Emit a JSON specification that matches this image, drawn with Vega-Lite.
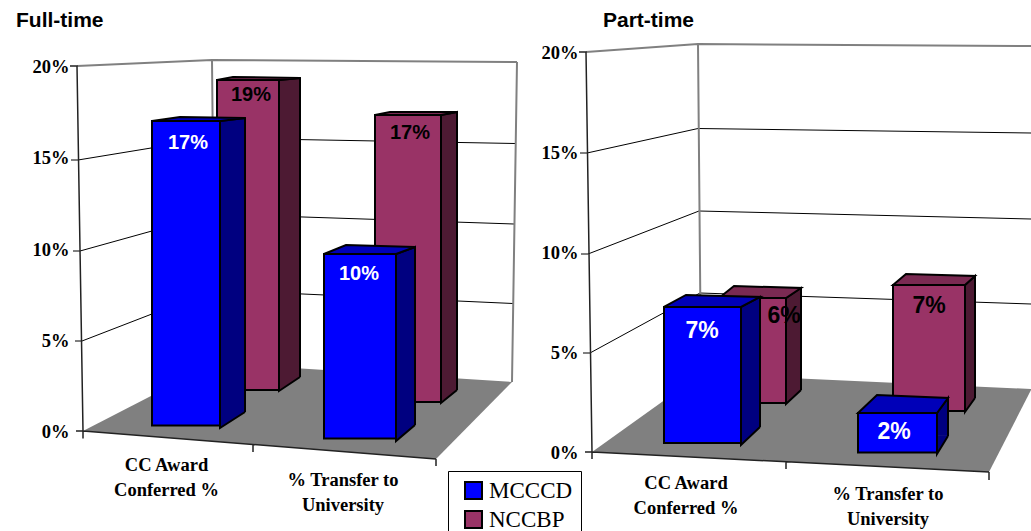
{"$schema":"https://vega.github.io/schema/vega-lite/v6.json","background":"white","padding":{"left":16,"top":10,"right":0,"bottom":0},"bounds":"flush","spacing":75,"config":{"view":{"stroke":null}},
"datasets":{"ticks":[{"tick":0},{"tick":0.05},{"tick":0.1},{"tick":0.15},{"tick":0.2}],
"full":[{"category":"CC Award Conferred %","series":"MCCCD","value":0.17},{"category":"CC Award Conferred %","series":"NCCBP","value":0.19},{"category":"% Transfer to University","series":"MCCCD","value":0.10},{"category":"% Transfer to University","series":"NCCBP","value":0.17}],
"part":[{"category":"CC Award Conferred %","series":"MCCCD","value":0.07},{"category":"CC Award Conferred %","series":"NCCBP","value":0.06},{"category":"% Transfer to University","series":"MCCCD","value":0.02},{"category":"% Transfer to University","series":"NCCBP","value":0.07}]},
"hconcat":[
{"width":440,"height":400,"title":{"text":"Full-time","anchor":"start","frame":"group","font":"Liberation Sans","fontWeight":"bold","fontSize":21,"color":"#000","dx":-59,"offset":21},"data":{"name":"full"},"resolve":{"scale":{"y":"independent"},"axis":{"y":"independent"}},
"layer":[
{"data":{"name":"ticks"},"encoding":{"y":{"field":"tick","type":"quantitative","scale":{"domain":[0,0.2],"range":[379.5,14.5]},"axis":{"values":[0,0.05,0.1,0.15,0.2],"format":".0%","grid":false,"ticks":false,"domain":false,"title":null,"labelFont":"Liberation Serif","labelFontWeight":"bold","labelFontSize":18.5,"labelColor":"#000","labelPadding":6}}},
"layer":[
{"transform":[{"filter":"datum.tick==0"}],"mark":{"type":"point","filled":true,"opacity":1,"size":4,"fill":"#808080","stroke":null,"shape":"M-212,-0.5L-80,-68.5L217,-49.5L141,27.5Z"}},
{"transform":[{"filter":"datum.tick==0.05"}],"mark":{"type":"point","filled":false,"opacity":1,"size":4,"stroke":"#000","strokeWidth":1,"shape":"M-220,0.75L-213,0.75L-81,-50.25L218,-36.75"}},
{"transform":[{"filter":"datum.tick==0.1"}],"mark":{"type":"point","filled":false,"opacity":1,"size":4,"stroke":"#000","strokeWidth":1,"shape":"M-222,2L-215,2L-82,-35L219,-25"}},
{"transform":[{"filter":"datum.tick==0.15"}],"mark":{"type":"point","filled":false,"opacity":1,"size":4,"stroke":"#000","strokeWidth":1,"shape":"M-224,2.25L-217,2.25L-83,-19.75L220,-14.25"}},
{"transform":[{"filter":"datum.tick==0.2"}],"mark":{"type":"point","filled":false,"opacity":1,"size":4,"stroke":"#808080","strokeWidth":2,"shape":"M-218,-0.5L-83,-6.5L222,-4.5M-83,-6.5L-80,296.5M222,-4.5L217,315.5"}},
{"transform":[{"filter":"datum.tick==0"}],"mark":{"type":"point","filled":false,"opacity":1,"size":4,"stroke":"#222","strokeWidth":1.5,"shape":"M-225,-365.5L-218,-365.5L-212,-0.5M-219,-0.5L-212,-0.5L141,27.5M-212,-0.5L-212,7M-42,13.5L-42,20.5M141,27.5L141,34.5"}}
]},
{"transform":[{"filter":"datum.series=='NCCBP'&&datum.category[0]=='C'"}],"encoding":{"x":{"field":"category","type":"nominal","scale":{"domain":["CC Award Conferred %","% Transfer to University"],"range":[0,360]},"axis":null},"y":{"field":"value","type":"quantitative","stack":null,"scale":{"domain":[0,0.2],"range":[338,11.7]},"axis":null}},
"layer":[
{"mark":{"type":"bar","width":21,"xOffset":124.5,"fill":"#4d1a33"},"encoding":{"y2":{"datum":0.008}}},
{"mark":{"type":"rule","xOffset":135,"stroke":"#000","strokeWidth":2},"encoding":{"y2":{"datum":0.008}}},
{"mark":{"type":"point","filled":true,"opacity":1,"size":4,"fill":"#4d1a33","stroke":"#000","strokeWidth":2,"xOffset":83,"shape":"M31,0L52,-2L52,0"}},
{"mark":{"type":"point","filled":true,"opacity":1,"size":4,"fill":"#4d1a33","stroke":"#000","strokeWidth":2,"xOffset":83,"shape":"M52,-13L31,1L31,-13"},"encoding":{"y":{"datum":0,"type":"quantitative","scale":{"domain":[0,0.2],"range":[338,11.7]},"axis":null}}},
{"mark":{"type":"point","filled":true,"opacity":1,"size":4,"fill":"#7a2a52","stroke":"#000","strokeWidth":2,"xOffset":83,"shape":"M-31,0L-15,-3L52,-2L31,0Z"}},
{"mark":{"type":"bar","width":62,"xOffset":83,"stroke":"#000","strokeWidth":2},"encoding":{"color":{"field":"series","type":"nominal","scale":{"domain":["MCCCD","NCCBP"],"range":["#0000ff","#993366"]},"legend":{"orient":"none","legendX":373,"legendY":419,"title":null,"symbolType":"square","symbolSize":289,"symbolStrokeColor":"#000","symbolStrokeWidth":2,"symbolOpacity":1,"symbolOffset":6,"labelFont":"Liberation Serif","labelFontSize":23,"labelColor":"#000","strokeColor":"#000","padding":8,"rowPadding":4}}}},
{"mark":{"type":"text","dx":86,"dy":15,"font":"Liberation Sans","fontWeight":"bold","fontSize":20,"color":"#000"},"encoding":{"text":{"field":"value","type":"quantitative","format":".0%"}}}
]},
{"transform":[{"filter":"datum.series=='NCCBP'&&datum.category[0]=='%'"}],"encoding":{"x":{"field":"category","type":"nominal","scale":{"domain":["CC Award Conferred %","% Transfer to University"],"range":[0,360]},"axis":null},"y":{"field":"value","type":"quantitative","stack":null,"scale":{"domain":[0,0.2],"range":[350,12.4]},"axis":null}},
"layer":[
{"mark":{"type":"bar","width":16,"xOffset":104,"fill":"#4d1a33"},"encoding":{"y2":{"datum":0.0071}}},
{"mark":{"type":"rule","xOffset":112,"stroke":"#000","strokeWidth":2},"encoding":{"y2":{"datum":0.0071}}},
{"mark":{"type":"point","filled":true,"opacity":1,"size":4,"fill":"#4d1a33","stroke":"#000","strokeWidth":2,"xOffset":63,"shape":"M33,0L49,-3L49,0"}},
{"mark":{"type":"point","filled":true,"opacity":1,"size":4,"fill":"#4d1a33","stroke":"#000","strokeWidth":2,"xOffset":63,"shape":"M49,-12L33,1L33,-12"},"encoding":{"y":{"datum":0,"type":"quantitative","scale":{"domain":[0,0.2],"range":[350,12.4]},"axis":null}}},
{"mark":{"type":"point","filled":true,"opacity":1,"size":4,"fill":"#7a2a52","stroke":"#000","strokeWidth":2,"xOffset":63,"shape":"M-33,0L-18,-3L49,-3L33,0Z"}},
{"mark":{"type":"bar","width":66,"xOffset":63,"stroke":"#000","strokeWidth":2},"encoding":{"color":{"field":"series","type":"nominal","scale":{"domain":["MCCCD","NCCBP"],"range":["#0000ff","#993366"]},"legend":null}}},
{"mark":{"type":"text","dx":65,"dy":18,"font":"Liberation Sans","fontWeight":"bold","fontSize":20,"color":"#000"},"encoding":{"text":{"field":"value","type":"quantitative","format":".0%"}}}
]},
{"transform":[{"filter":"datum.series=='MCCCD'&&datum.category[0]=='C'"}],"encoding":{"x":{"field":"category","type":"nominal","scale":{"domain":["CC Award Conferred %","% Transfer to University"],"range":[0,360]},"axis":null},"y":{"field":"value","type":"quantitative","stack":null,"scale":{"domain":[0,0.2],"range":[373.5,15.3]},"axis":null}},
"layer":[
{"mark":{"type":"bar","width":25,"xOffset":67.5,"fill":"#000080"},"encoding":{"y2":{"datum":0.0075}}},
{"mark":{"type":"rule","xOffset":80,"stroke":"#000","strokeWidth":2},"encoding":{"y2":{"datum":0.0075}}},
{"mark":{"type":"point","filled":true,"opacity":1,"size":4,"fill":"#000080","stroke":"#000","strokeWidth":2,"xOffset":21,"shape":"M34,0L59,-3L59,0"}},
{"mark":{"type":"point","filled":true,"opacity":1,"size":4,"fill":"#000080","stroke":"#000","strokeWidth":2,"xOffset":21,"shape":"M59,-13.5L34,2.5L34,-13.5"},"encoding":{"y":{"datum":0,"type":"quantitative","scale":{"domain":[0,0.2],"range":[373.5,15.3]},"axis":null}}},
{"mark":{"type":"point","filled":true,"opacity":1,"size":4,"fill":"#0000b8","stroke":"#000","strokeWidth":2,"xOffset":21,"shape":"M-34,0L-6,-4L59,-3L34,0Z"}},
{"mark":{"type":"bar","width":68,"xOffset":21,"stroke":"#000","strokeWidth":2},"encoding":{"color":{"field":"series","type":"nominal","scale":{"domain":["MCCCD","NCCBP"],"range":["#0000ff","#993366"]},"legend":null}}},
{"mark":{"type":"text","dx":23,"dy":22,"font":"Liberation Sans","fontWeight":"bold","fontSize":20,"color":"#fff"},"encoding":{"text":{"field":"value","type":"quantitative","format":".0%"}}},
{"mark":{"type":"text","dx":1.5,"dy":30.5,"baseline":"top","lineHeight":25,"font":"Liberation Serif","fontWeight":"bold","fontSize":18.5,"color":"#000"},"encoding":{"y":{"datum":0,"type":"quantitative","scale":{"domain":[0,0.2],"range":[373.5,15.3]},"axis":null},"text":{"value":["CC Award","Conferred %"]}}}
]},
{"transform":[{"filter":"datum.series=='MCCCD'&&datum.category[0]=='%'"}],"encoding":{"x":{"field":"category","type":"nominal","scale":{"domain":["CC Award Conferred %","% Transfer to University"],"range":[0,360]},"axis":null},"y":{"field":"value","type":"quantitative","stack":null,"scale":{"domain":[0,0.2],"range":[386.5,17.5]},"axis":null}},
"layer":[
{"mark":{"type":"bar","width":19,"xOffset":60.5,"fill":"#000080"},"encoding":{"y2":{"datum":0.0073}}},
{"mark":{"type":"rule","xOffset":70,"stroke":"#000","strokeWidth":2},"encoding":{"y2":{"datum":0.0073}}},
{"mark":{"type":"point","filled":true,"opacity":1,"size":4,"fill":"#000080","stroke":"#000","strokeWidth":2,"xOffset":15,"shape":"M36,0L55,-7L55,0"}},
{"mark":{"type":"point","filled":true,"opacity":1,"size":4,"fill":"#000080","stroke":"#000","strokeWidth":2,"xOffset":15,"shape":"M55,-13.5L36,2.5L36,-13.5"},"encoding":{"y":{"datum":0,"type":"quantitative","scale":{"domain":[0,0.2],"range":[386.5,17.5]},"axis":null}}},
{"mark":{"type":"point","filled":true,"opacity":1,"size":4,"fill":"#0000b8","stroke":"#000","strokeWidth":2,"xOffset":15,"shape":"M-36,0L-14,-9L55,-7L36,0Z"}},
{"mark":{"type":"bar","width":72,"xOffset":15,"stroke":"#000","strokeWidth":2},"encoding":{"color":{"field":"series","type":"nominal","scale":{"domain":["MCCCD","NCCBP"],"range":["#0000ff","#993366"]},"legend":null}}},
{"mark":{"type":"text","dx":14,"dy":20,"font":"Liberation Sans","fontWeight":"bold","fontSize":20,"color":"#fff"},"encoding":{"text":{"field":"value","type":"quantitative","format":".0%"}}},
{"mark":{"type":"text","dx":-2,"dy":32.5,"baseline":"top","lineHeight":25,"font":"Liberation Serif","fontWeight":"bold","fontSize":18.5,"color":"#000"},"encoding":{"y":{"datum":0,"type":"quantitative","scale":{"domain":[0,0.2],"range":[386.5,17.5]},"axis":null},"text":{"value":["% Transfer to","University"]}}}
]}
]},
{"width":441,"height":400,"title":{"text":"Part-time","anchor":"start","frame":"group","font":"Liberation Sans","fontWeight":"bold","fontSize":21,"color":"#000","dx":13,"offset":9},"data":{"name":"part"},"resolve":{"scale":{"y":"independent"},"axis":{"y":"independent"}},
"layer":[
{"data":{"name":"ticks"},"encoding":{"y":{"field":"tick","type":"quantitative","scale":{"domain":[0,0.2],"range":[400,0]},"axis":{"values":[0,0.05,0.1,0.15,0.2],"format":".0%","grid":false,"ticks":false,"domain":false,"title":null,"labelFont":"Liberation Serif","labelFontWeight":"bold","labelFontSize":18.5,"labelColor":"#000","labelPadding":12}}},
"layer":[
{"transform":[{"filter":"datum.tick==0"}],"mark":{"type":"point","filled":true,"opacity":1,"size":4,"fill":"#808080","stroke":null,"shape":"M-218.5,0L-109.5,-78L220.5,-63L220.5,-62L178.5,20Z"}},
{"transform":[{"filter":"datum.tick==0.05"}],"mark":{"type":"point","filled":false,"opacity":1,"size":4,"stroke":"#000","strokeWidth":1,"shape":"M-227.5,1L-220.5,1L-110.5,-59L220.5,-48"}},
{"transform":[{"filter":"datum.tick==0.1"}],"mark":{"type":"point","filled":false,"opacity":1,"size":4,"stroke":"#000","strokeWidth":1,"shape":"M-229.5,2L-222.5,2L-111.5,-41L220.5,-33"}},
{"transform":[{"filter":"datum.tick==0.15"}],"mark":{"type":"point","filled":false,"opacity":1,"size":4,"stroke":"#000","strokeWidth":1,"shape":"M-230.5,1L-223.5,1L-112.5,-23.5L220.5,-19"}},
{"transform":[{"filter":"datum.tick==0.2"}],"mark":{"type":"point","filled":false,"opacity":1,"size":4,"stroke":"#808080","strokeWidth":2,"shape":"M-224.5,0L-112.5,-8L220.5,-6M-112.5,-8L-109.5,323"}},
{"transform":[{"filter":"datum.tick==0"}],"mark":{"type":"point","filled":false,"opacity":1,"size":4,"stroke":"#222","strokeWidth":1.5,"shape":"M-231.5,-400L-224.5,-400L-218.5,0M-225.5,0L-218.5,0L178.5,20M-218.5,0L-218.5,7M-24.5,10L-24.5,17M178.5,20L178.5,28"}}
]},
{"transform":[{"filter":"datum.series=='NCCBP'&&datum.category[0]=='C'"}],"encoding":{"x":{"field":"category","type":"nominal","scale":{"domain":["CC Award Conferred %","% Transfer to University"],"range":[-3,397]},"axis":null},"y":{"field":"value","type":"quantitative","stack":null,"scale":{"domain":[0,0.2],"range":[351,1]},"axis":null}},
"layer":[
{"mark":{"type":"bar","width":15,"xOffset":106.5,"fill":"#4d1a33"},"encoding":{"y2":{"datum":0.0074}}},
{"mark":{"type":"rule","xOffset":114,"stroke":"#000","strokeWidth":2},"encoding":{"y2":{"datum":0.0074}}},
{"mark":{"type":"point","filled":true,"opacity":1,"size":4,"fill":"#4d1a33","stroke":"#000","strokeWidth":2,"xOffset":65.5,"shape":"M33.5,0L48.5,-10L48.5,0"}},
{"mark":{"type":"point","filled":true,"opacity":1,"size":4,"fill":"#4d1a33","stroke":"#000","strokeWidth":2,"xOffset":65.5,"shape":"M48.5,-13L33.5,1L33.5,-13"},"encoding":{"y":{"datum":0,"type":"quantitative","scale":{"domain":[0,0.2],"range":[351,1]},"axis":null}}},
{"mark":{"type":"point","filled":true,"opacity":1,"size":4,"fill":"#7a2a52","stroke":"#000","strokeWidth":2,"xOffset":65.5,"shape":"M-33.5,0L-18.5,-12L48.5,-10L33.5,0Z"}},
{"mark":{"type":"bar","width":67,"xOffset":65.5,"stroke":"#000","strokeWidth":2},"encoding":{"color":{"field":"series","type":"nominal","scale":{"domain":["MCCCD","NCCBP"],"range":["#0000ff","#993366"]},"legend":null}}},
{"mark":{"type":"text","dx":97,"dy":18,"font":"Liberation Sans","fontWeight":"bold","fontSize":23,"color":"#000"},"encoding":{"text":{"field":"value","type":"quantitative","format":".0%"}}}
]},
{"transform":[{"filter":"datum.series=='NCCBP'&&datum.category[0]=='%'"}],"encoding":{"x":{"field":"category","type":"nominal","scale":{"domain":["CC Award Conferred %","% Transfer to University"],"range":[-3,397]},"axis":null},"y":{"field":"value","type":"quantitative","stack":null,"scale":{"domain":[0,0.2],"range":[359,-1]},"axis":null}},
"layer":[
{"mark":{"type":"bar","width":10,"xOffset":83,"fill":"#4d1a33"},"encoding":{"y2":{"datum":0.0072}}},
{"mark":{"type":"rule","xOffset":88,"stroke":"#000","strokeWidth":2},"encoding":{"y2":{"datum":0.0072}}},
{"mark":{"type":"point","filled":true,"opacity":1,"size":4,"fill":"#4d1a33","stroke":"#000","strokeWidth":2,"xOffset":42,"shape":"M36,0L46,-9L46,0"}},
{"mark":{"type":"point","filled":true,"opacity":1,"size":4,"fill":"#4d1a33","stroke":"#000","strokeWidth":2,"xOffset":42,"shape":"M46,-13L36,1L36,-13"},"encoding":{"y":{"datum":0,"type":"quantitative","scale":{"domain":[0,0.2],"range":[359,-1]},"axis":null}}},
{"mark":{"type":"point","filled":true,"opacity":1,"size":4,"fill":"#7a2a52","stroke":"#000","strokeWidth":2,"xOffset":42,"shape":"M-36,0L-23,-11L46,-9L36,0Z"}},
{"mark":{"type":"bar","width":72,"xOffset":42,"stroke":"#000","strokeWidth":2},"encoding":{"color":{"field":"series","type":"nominal","scale":{"domain":["MCCCD","NCCBP"],"range":["#0000ff","#993366"]},"legend":null}}},
{"mark":{"type":"text","dx":42,"dy":21,"font":"Liberation Sans","fontWeight":"bold","fontSize":23,"color":"#000"},"encoding":{"text":{"field":"value","type":"quantitative","format":".0%"}}}
]},
{"transform":[{"filter":"datum.series=='MCCCD'&&datum.category[0]=='C'"}],"encoding":{"x":{"field":"category","type":"nominal","scale":{"domain":["CC Award Conferred %","% Transfer to University"],"range":[-3,397]},"axis":null},"y":{"field":"value","type":"quantitative","stack":null,"scale":{"domain":[0,0.2],"range":[391,2.4]},"axis":null}},
"layer":[
{"mark":{"type":"bar","width":19,"xOffset":63.5,"fill":"#000080"},"encoding":{"y2":{"datum":0.0082}}},
{"mark":{"type":"rule","xOffset":73,"stroke":"#000","strokeWidth":2},"encoding":{"y2":{"datum":0.0082}}},
{"mark":{"type":"point","filled":true,"opacity":1,"size":4,"fill":"#000080","stroke":"#000","strokeWidth":2,"xOffset":15.5,"shape":"M38.5,0L57.5,-10L57.5,0"}},
{"mark":{"type":"point","filled":true,"opacity":1,"size":4,"fill":"#000080","stroke":"#000","strokeWidth":2,"xOffset":15.5,"shape":"M57.5,-16L38.5,2L38.5,-16"},"encoding":{"y":{"datum":0,"type":"quantitative","scale":{"domain":[0,0.2],"range":[391,2.4]},"axis":null}}},
{"mark":{"type":"point","filled":true,"opacity":1,"size":4,"fill":"#0000b8","stroke":"#000","strokeWidth":2,"xOffset":15.5,"shape":"M-38.5,0L-16.5,-12L57.5,-10L38.5,0Z"}},
{"mark":{"type":"bar","width":77,"xOffset":15.5,"stroke":"#000","strokeWidth":2},"encoding":{"color":{"field":"series","type":"nominal","scale":{"domain":["MCCCD","NCCBP"],"range":["#0000ff","#993366"]},"legend":null}}},
{"mark":{"type":"text","dx":15,"dy":24,"font":"Liberation Sans","fontWeight":"bold","fontSize":23,"color":"#fff"},"encoding":{"text":{"field":"value","type":"quantitative","format":".0%"}}},
{"mark":{"type":"text","dx":-1,"dy":31,"baseline":"top","lineHeight":25,"font":"Liberation Serif","fontWeight":"bold","fontSize":18.5,"color":"#000"},"encoding":{"y":{"datum":0,"type":"quantitative","scale":{"domain":[0,0.2],"range":[391,2.4]},"axis":null},"text":{"value":["CC Award","Conferred %"]}}}
]},
{"transform":[{"filter":"datum.series=='MCCCD'&&datum.category[0]=='%'"}],"encoding":{"x":{"field":"category","type":"nominal","scale":{"domain":["CC Award Conferred %","% Transfer to University"],"range":[-3,397]},"axis":null},"y":{"field":"value","type":"quantitative","stack":null,"scale":{"domain":[0,0.2],"range":[400.5,5.5]},"axis":null}},
"layer":[
{"mark":{"type":"bar","width":11,"xOffset":55.5,"fill":"#000080"},"encoding":{"y2":{"datum":0.0084}}},
{"mark":{"type":"rule","xOffset":61,"stroke":"#000","strokeWidth":2},"encoding":{"y2":{"datum":0.0084}}},
{"mark":{"type":"point","filled":true,"opacity":1,"size":4,"fill":"#000080","stroke":"#000","strokeWidth":2,"xOffset":10.5,"shape":"M39.5,0L50.5,-15L50.5,0"}},
{"mark":{"type":"point","filled":true,"opacity":1,"size":4,"fill":"#000080","stroke":"#000","strokeWidth":2,"xOffset":10.5,"shape":"M50.5,-16.5L39.5,1.5L39.5,-16.5"},"encoding":{"y":{"datum":0,"type":"quantitative","scale":{"domain":[0,0.2],"range":[400.5,5.5]},"axis":null}}},
{"mark":{"type":"point","filled":true,"opacity":1,"size":4,"fill":"#0000b8","stroke":"#000","strokeWidth":2,"xOffset":10.5,"shape":"M-39.5,0L-20.5,-18L50.5,-15L39.5,0Z"}},
{"mark":{"type":"bar","width":79,"xOffset":10.5,"stroke":"#000","strokeWidth":2},"encoding":{"color":{"field":"series","type":"nominal","scale":{"domain":["MCCCD","NCCBP"],"range":["#0000ff","#993366"]},"legend":null}}},
{"mark":{"type":"text","dx":7,"dy":19,"font":"Liberation Sans","fontWeight":"bold","fontSize":23,"color":"#fff"},"encoding":{"text":{"field":"value","type":"quantitative","format":".0%"}}},
{"mark":{"type":"text","dx":1,"dy":32.5,"baseline":"top","lineHeight":25,"font":"Liberation Serif","fontWeight":"bold","fontSize":18.5,"color":"#000"},"encoding":{"y":{"datum":0,"type":"quantitative","scale":{"domain":[0,0.2],"range":[400.5,5.5]},"axis":null},"text":{"value":["% Transfer to","University"]}}}
]}
]}
]}
